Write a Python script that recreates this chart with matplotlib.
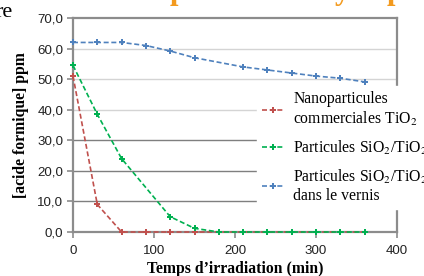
import matplotlib
matplotlib.use('Agg')
import matplotlib.pyplot as plt
from matplotlib.ticker import FixedLocator, FuncFormatter

plt.rcParams['mathtext.fontset'] = 'stix'

# data (time in min, concentration in ppm)
t_nano = [0, 30, 60, 90, 120, 150, 180, 210, 240, 270, 300, 330, 360]
c_nano = [51.0, 9.0, 0, 0, 0, 0, 0, 0, 0, 0, 0, 0, 0]

t_part = [0, 30, 60, 120, 150, 180, 210, 240, 270, 300, 330, 360]
c_part = [54.5, 38.5, 24.0, 5.0, 1.2, 0, 0, 0, 0, 0, 0, 0]

t_vern = [0, 30, 60, 90, 120, 150, 210, 240, 270, 300, 330, 360]
c_vern = [62.0, 62.0, 62.0, 61.0, 59.2, 57.0, 54.0, 53.0, 52.0, 51.0, 50.3, 49.1]

labels = ['Nanoparticules\ncommerciales TiO$_2$',
          'Particules SiO$_2$/TiO$_2$',
          'Particules SiO$_2$/TiO$_2$\ndans le vernis']
colors = ['#c0504d', '#00b050', '#4f81bd']

y_ticks = [0, 10, 20, 30, 40, 50, 60, 70]
x_ticks = [0, 100, 200, 300, 400]

fig = plt.figure(figsize=(4.24, 2.76), dpi=100)
fig.patch.set_facecolor('white')
ax = fig.add_axes([73/424, 1-232/276, 324/424, 214/276])

ax.set_xlim(0, 400)
ax.set_ylim(0, 70)

# horizontal gridlines, the lower ones look darker in the source
for v in y_ticks[1:-1]:
    ax.axhline(v, color='#7f7f7f' if v <= 30 else '#d4d4d4', lw=1.0, zorder=1)

series = [(t_nano, c_nano), (t_part, c_part), (t_vern, c_vern)]
for (t, c), col, lab in zip(series, colors, labels):
    ax.plot(t, c, color=col, lw=1.2, ls=(0, (3, 1.6)), marker='P', ms=4,
            mew=0, label=lab, zorder=3, clip_on=False)

for s in ax.spines.values():
    s.set_color('#8c8c8c')
    s.set_linewidth(1.6)

ax.yaxis.set_major_locator(FixedLocator(y_ticks))
ax.xaxis.set_major_locator(FixedLocator(x_ticks))
ax.yaxis.set_major_formatter(FuncFormatter(lambda v, p: f'{v:.1f}'.replace('.', ',')))
ax.xaxis.set_major_formatter(FuncFormatter(lambda v, p: f'{v:.0f}'))
ax.tick_params(axis='both', length=4, width=1.2, color='#8c8c8c', pad=3,
               labelsize=9.6, labelcolor='#222222')
for lbl in ax.get_xticklabels() + ax.get_yticklabels():
    lbl.set_family('Liberation Sans')
ax.tick_params(axis='x', pad=5)

ax.set_xlabel('Temps d\u2019irradiation (min)', family='Liberation Serif',
              fontweight='bold', fontsize=11.3, labelpad=3)
ax.set_ylabel('[acide formique] ppm', family='Liberation Serif',
              fontweight='bold', fontsize=11.3, labelpad=6)

leg = fig.legend(loc='upper left', bbox_to_anchor=(257/424, 1-86/276),
                 frameon=True, fancybox=False, framealpha=1,
                 facecolor='white', edgecolor='white',
                 prop={'family': 'Liberation Serif', 'size': 11.3},
                 handlelength=1.5, handletextpad=0.5, labelspacing=0.7,
                 borderpad=0.3, borderaxespad=0)

# cut-off bits of the surrounding page
fig.text(13/424, 1-17/276, 're', ha='right', va='baseline',
         family='Liberation Serif', fontsize=16, color='black')
for xp, ch in [(178, 'p'), (342, 'y'), (395, 'p')]:
    fig.text(xp/424, 1+1/276, ch, ha='center', va='baseline',
             family='Liberation Serif', fontweight='bold', fontsize=22,
             color='#f39a1e')

fig.savefig('out.png', dpi=100, facecolor='white')
